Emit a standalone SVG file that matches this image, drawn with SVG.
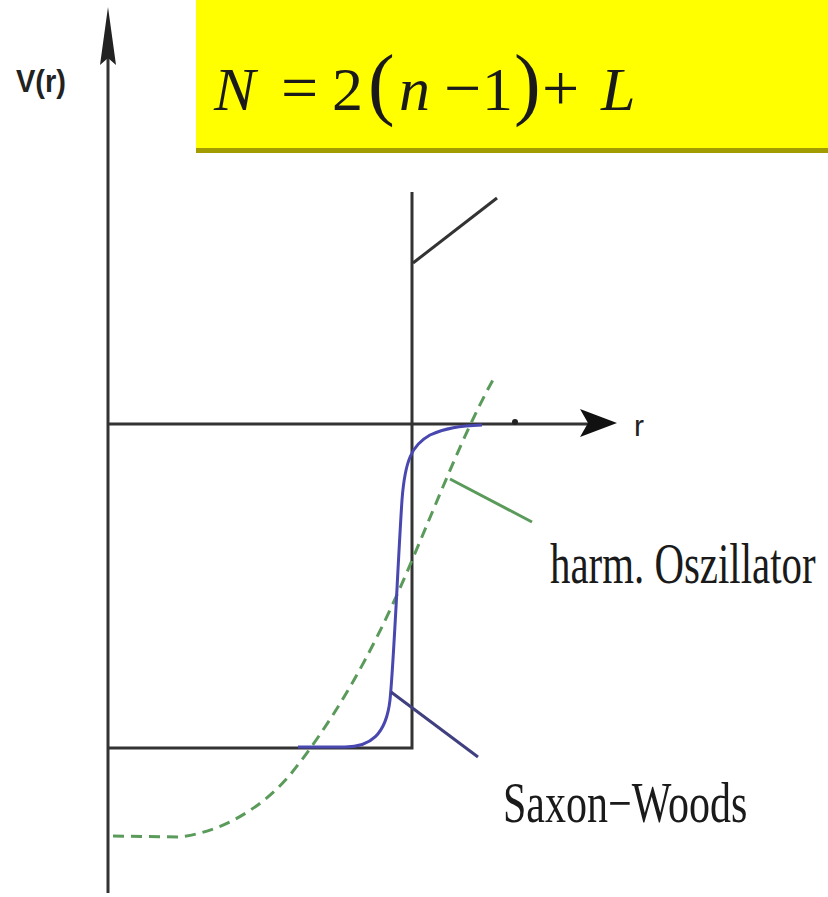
<svg xmlns="http://www.w3.org/2000/svg" width="828" height="897" viewBox="0 0 828 897">
<style>
.ax{stroke:#333;stroke-width:3;fill:none}
.blue{stroke:#4848b0;stroke-width:3;fill:none}
.green{stroke:#5a9a5a;stroke-width:3;fill:none}
.tm{font-family:"Liberation Serif","Times New Roman",serif;fill:#1a1a1a}
.it{font-style:italic}
.f{font-size:62px}
.op{font-size:66px}
</style>
<rect width="828" height="897" fill="#ffffff"/>
<g id="formula">
<rect x="196" y="0" width="632" height="149" fill="#ffff00"/>
<rect x="196" y="148" width="632" height="5" fill="#a39c00"/>
<text class="tm it f" x="214" y="110">N</text>
<text class="tm op" x="281" y="110">=</text>
<text class="tm f" x="332" y="110">2</text>
<text class="tm" x="368" y="110" font-size="80">(</text>
<text class="tm it f" x="399" y="110">n</text>
<text class="tm op" x="444" y="110">−</text>
<text class="tm f" x="482" y="110">1</text>
<text class="tm" x="514" y="110" font-size="80">)</text>
<text class="tm op" x="542" y="110">+</text>
<text class="tm it f" x="601" y="110">L</text>
</g>
<g id="axes">
<line class="ax" x1="108" y1="40" x2="108" y2="893"/>
<polygon points="108,7 116,65 108,58 100,65" fill="#222"/>
<line class="ax" x1="108" y1="424" x2="592" y2="424"/>
<polygon points="617,423 580,409 588,423 580,437" fill="#111"/>
<circle cx="515" cy="422" r="3" fill="#222"/>
<text x="16" y="92" font-family="Liberation Sans,sans-serif" font-weight="bold" font-size="32" fill="#222" textLength="50" lengthAdjust="spacingAndGlyphs">V(r)</text>
<text x="634" y="436" font-family="Liberation Sans,sans-serif" font-size="30" fill="#222">r</text>
</g>
<g id="box-potential">
<polyline class="ax" points="108,748 412,748 412,192"/>
<line class="ax" x1="413" y1="263" x2="497" y2="198"/>
</g>
<g id="harm-oszillator">
<path class="green" stroke-dasharray="11,7" d="M113,836 L180,837 C220,832 260,810 290,775 C330,725 370,660 410,565 C440,495 465,430 494,378"/>
<line class="green" x1="450" y1="479" x2="532" y2="522"/>
<text class="tm" transform="translate(550,583) scale(0.73,1)" font-size="56">harm. Oszillator</text>
</g>
<g id="saxon-woods">
<path class="blue" d="M298,747 L345,747 C370,747 386,735 390,700 C394,660 398,560 402,500 C405,460 412,445 430,435 C445,428 460,426 482,425"/>
<line x1="391" y1="692" x2="478" y2="757" stroke="#404080" stroke-width="3"/>
<text class="tm" transform="translate(503,822) scale(0.75,1)" font-size="56">Saxon−Woods</text>
</g>
</svg>
